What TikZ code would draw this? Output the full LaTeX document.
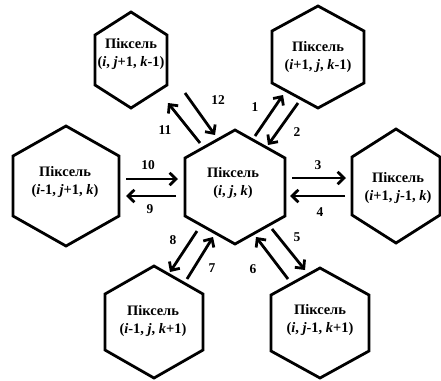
\documentclass[tikz,border=0pt]{standalone}
\usepackage{fontspec}
\setmainfont{Liberation Serif}
\usetikzlibrary{arrows.meta}
\tikzset{
 hex/.style={draw, line width=2.8pt, line join=miter},
 lbl/.style={font=\bfseries\fontsize{14.5}{18.5}\selectfont, align=center, inner sep=0pt},
 num/.style={font=\bfseries\fontsize{13.5}{14}\selectfont, inner sep=0pt},
 arr/.style={line width=2.8pt, -{Straight Barb[length=6.5pt,width=12.5pt]}}
}
\newcommand\hexat[5]{%
 \draw[hex] (#1,#2-#4) -- (#1+#3,#2-#5) -- (#1+#3,#2+#5) -- (#1,#2+#4) -- (#1-#3,#2+#5) -- (#1-#3,#2-#5) -- cycle;}
\begin{document}
\begin{tikzpicture}[x=1bp,y=-1bp]
\useasboundingbox (0,0) rectangle (441,380);
% hexagons
\hexat{235}{187}{50}{57}{29}
\hexat{131}{60}{36}{48}{25}
\hexat{318}{57}{46}{51}{26}
\hexat{66}{186}{53}{60}{30}
\hexat{396}{186}{44}{57}{29}
\hexat{154}{322}{49}{56}{28}
\hexat{320}{323}{49}{55}{28}
% texts
\node[lbl] (c)  at (233,183) {Піксель\\(\textit{i}, \textit{j}, \textit{k})};
\node[lbl] (tl) at (131,54) {Піксель\\(\textit{i}, \textit{j}+1, \textit{k}-1)};
\node[lbl] (tr) at (318,57) {Піксель\\(\textit{i}+1, \textit{j}, \textit{k}-1)};
\node[lbl] (l)  at (65,182) {Піксель\\(\textit{i}-1, \textit{j}+1, \textit{k})};
\node[lbl] (r)  at (398,188) {Піксель\\(\textit{i}+1, \textit{j}-1, \textit{k})};
\node[lbl] (bl) at (153,321) {Піксель\\(\textit{i}-1, \textit{j}, \textit{k}+1)};
\node[lbl] (br) at (320,320) {Піксель\\(\textit{i}, \textit{j}-1, \textit{k}+1)};
% arrow end points
\coordinate (a1s) at (255,136); \coordinate (a1e) at (283,95);
\coordinate (a2s) at (298,103); \coordinate (a2e) at (268,145);
\coordinate (a3s) at (292,178); \coordinate (a3e) at (346,178);
\coordinate (a4s) at (345,196); \coordinate (a4e) at (290,196);
\coordinate (a5s) at (272,229); \coordinate (a5e) at (305,270);
\coordinate (a6s) at (288,279); \coordinate (a6e) at (256,237);
\coordinate (a7s) at (187,279); \coordinate (a7e) at (213,237);
\coordinate (a8s) at (197,231); \coordinate (a8e) at (170,272);
\coordinate (a9s) at (176,196); \coordinate (a9e) at (126,196);
\coordinate (a10s) at (126,179); \coordinate (a10e) at (178,179);
\coordinate (a11s) at (200,143); \coordinate (a11e) at (168,103);
\coordinate (a12s) at (185,93); \coordinate (a12e) at (215,135);
\foreach \i in {1,...,12} {\draw[arr] (a\i s) -- (a\i e);}
% numbers
\node[num] (n1) at (255,107) {1};
\node[num] (n2) at (297,132) {2};
\node[num] (n3) at (318,165) {3};
\node[num] (n4) at (320,212) {4};
\node[num] (n5) at (297,237) {5};
\node[num] (n6) at (253,269) {6};
\node[num] (n7) at (212,268) {7};
\node[num] (n8) at (173,240) {8};
\node[num] (n9) at (150,209) {9};
\node[num] (n10) at (148,165) {10};
\node[num] (n11) at (165,130) {11};
\node[num] (n12) at (218,100) {12};
\end{tikzpicture}
\end{document}
